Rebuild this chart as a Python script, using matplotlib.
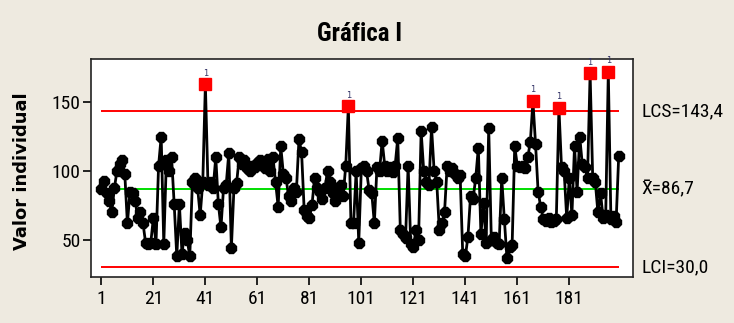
import matplotlib
matplotlib.use("Agg")
import matplotlib.pyplot as plt
from matplotlib import font_manager
import numpy as np

title = "Gráfica I"
ylabel = "Valor individual"
xticks = [1, 21, 41, 61, 81, 101, 121, 141, 161, 181]
yticks = [50, 100, 150]
lcs = 143.4
center = 86.7
lci = 30.0
lcs_label = "LCS=143,4"
center_label = "X\u0304=86,7"
lci_label = "LCI=30,0"

values = [
    87, 93, 84, 78, 70, 88, 100, 105, 108, 98,
    62, 85, 84, 78, 66, 70, 62, 48, 47, 48,
    66, 47, 104, 125, 47, 108, 100, 110, 76, 38,
    76, 40, 55, 50, 38, 92, 95, 88, 68, 92,
    163, 90, 92, 88, 110, 76, 59, 88, 90, 113,
    44, 88, 91, 110, 105, 108, 102, 100, 104, 103,
    106, 108, 106, 102, 109, 100, 110, 92, 74, 118,
    98, 95, 82, 78, 88, 85, 123, 114, 72, 67,
    66, 75, 95, 88, 85, 80, 88, 100, 92, 84,
    78, 88, 90, 82, 104, 147, 62, 62, 100, 48,
    102, 104, 100, 86, 84, 62, 103, 100, 122, 104,
    100, 103, 99, 104, 124, 57, 54, 51, 104, 47,
    45, 57, 50, 129, 100, 92, 90, 132, 100, 92,
    57, 62, 70, 104, 100, 102, 98, 95, 97, 40,
    38, 52, 82, 80, 95, 117, 54, 77, 48, 131,
    50, 52, 48, 47, 95, 65, 37, 45, 46, 118,
    104, 103, 104, 102, 110, 121, 151, 120, 85, 74,
    65, 64, 66, 63, 64, 65, 146, 103, 100, 66,
    95, 68, 118, 85, 125, 105, 103, 95, 171, 95,
    92, 70, 84, 66, 68, 172, 65, 67, 63, 111,
]

# pick a narrow font if one is installed
available = {f.name for f in font_manager.fontManager.ttflist}
narrow = None
for cand in ["Liberation Sans Narrow", "DejaVu Sans Condensed", "Roboto Condensed",
             "Open Sans Condensed"]:
    if cand in available:
        narrow = cand
        break
if narrow is not None:
    fam = [narrow, "DejaVu Sans"]
    tick_fs, side_fs, title_fs = 14, 14, 18
else:
    fam = ["Liberation Sans", "DejaVu Sans"]
    tick_fs, side_fs, title_fs = 12, 12, 16

x = np.arange(1, len(values) + 1)
y = np.array(values, dtype=float)
out = (y > lcs) | (y < lci)

bg = "#EEEAE0"
fig = plt.figure(figsize=(7.34, 3.23), dpi=100, facecolor=bg)
ax = fig.add_axes([91 / 734, 1 - 277 / 323, (633 - 91) / 734, (277 - 59) / 323])
ax.set_facecolor("white")

ax.hlines([lcs, lci], 1, len(values), colors="#FF0000", linewidth=1.4, zorder=1)
ax.hlines(center, 1, len(values), colors="#00DD00", linewidth=1.4, zorder=1)

ax.plot(x, y, color="black", linewidth=2.0, zorder=2)
ax.plot(x[~out], y[~out], linestyle="none", marker="8", markersize=7.5,
        color="black", zorder=3)
ax.plot(x[out], y[out], linestyle="none", marker="s", markersize=8,
        color="#FF0000", zorder=4)
for xi, yi in zip(x[out], y[out]):
    ax.text(xi, yi + 5, "1", ha="center", va="bottom", fontsize=6,
            color="#333366", zorder=5)

ax.set_xlim(-3, 205.5)
ax.set_ylim(23, 181.5)
ax.set_xticks(xticks)
ax.set_yticks(yticks)
ax.tick_params(axis="both", direction="out", length=6, width=1.2,
               labelsize=tick_fs, colors="black")
ax.tick_params(axis="x", pad=3)
ax.tick_params(axis="y", pad=1.5)
for lab in ax.get_xticklabels() + ax.get_yticklabels():
    lab.set_family(fam)
for s in ax.spines.values():
    s.set_linewidth(1.2)
    s.set_color("#222222")

fig.text(360 / 734, 1 - 34 / 323, title, ha="center", va="center",
         fontsize=title_fs, fontweight="bold", family=fam)
fig.text(22 / 734, 1 - 171 / 323, ylabel, ha="center", va="center",
         rotation=90, fontsize=13, fontweight="bold", family=["DejaVu Sans"])

tr = ax.get_yaxis_transform()
for val, lab in [(lcs, lcs_label), (center, center_label), (lci, lci_label)]:
    ax.text(1.015, val, lab, transform=tr, ha="left", va="center",
            fontsize=side_fs, family=fam, clip_on=False)

fig.savefig("out.png", dpi=100, facecolor=bg)
